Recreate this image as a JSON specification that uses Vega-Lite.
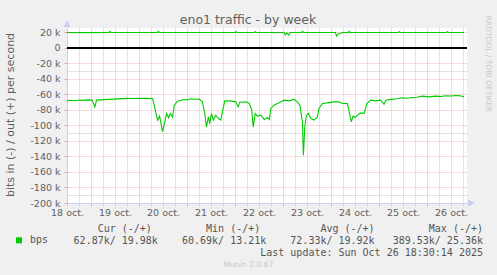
{
  "$schema": "https://vega.github.io/schema/vega-lite/v6.json",
  "width": 400,
  "height": 175,
  "autosize": {"type": "none"},
  "padding": {"left": 67, "top": 28, "right": 30, "bottom": 72},
  "background": "#f0f0f0",
  "config": {"view": {"stroke": null, "fill": "#ffffff"}, "font": "DejaVu Sans", "axis": {"labelOverlap": false}},
  "title": {"text": "eno1 traffic - by week", "anchor": "middle", "frame": "group", "dx": -19, "dy": 15, "offset": 4, "fontSize": 12.5, "fontWeight": "normal", "font": "DejaVu Sans", "color": "#606060"},
  "data": {"values": [
    {"h": 0, "v": -68200, "d": "in", "s": "bps"},
    {"h": 2, "v": -67500, "d": "in", "s": "bps"},
    {"h": 4, "v": -68000, "d": "in", "s": "bps"},
    {"h": 6, "v": -67200, "d": "in", "s": "bps"},
    {"h": 8, "v": -67600, "d": "in", "s": "bps"},
    {"h": 10, "v": -67000, "d": "in", "s": "bps"},
    {"h": 12.6, "v": -67200, "d": "in", "s": "bps"},
    {"h": 13.9, "v": -76000, "d": "in", "s": "bps"},
    {"h": 14.8, "v": -67200, "d": "in", "s": "bps"},
    {"h": 18.6, "v": -66600, "d": "in", "s": "bps"},
    {"h": 23.6, "v": -66000, "d": "in", "s": "bps"},
    {"h": 29.5, "v": -65000, "d": "in", "s": "bps"},
    {"h": 33, "v": -65200, "d": "in", "s": "bps"},
    {"h": 36.1, "v": -65000, "d": "in", "s": "bps"},
    {"h": 40, "v": -64900, "d": "in", "s": "bps"},
    {"h": 42.8, "v": -65200, "d": "in", "s": "bps"},
    {"h": 43.6, "v": -73800, "d": "in", "s": "bps"},
    {"h": 45.3, "v": -93000, "d": "in", "s": "bps"},
    {"h": 46.3, "v": -88000, "d": "in", "s": "bps"},
    {"h": 47.8, "v": -108000, "d": "in", "s": "bps"},
    {"h": 49.1, "v": -93000, "d": "in", "s": "bps"},
    {"h": 49.8, "v": -84500, "d": "in", "s": "bps"},
    {"h": 50.8, "v": -90000, "d": "in", "s": "bps"},
    {"h": 51.6, "v": -84500, "d": "in", "s": "bps"},
    {"h": 52.8, "v": -89000, "d": "in", "s": "bps"},
    {"h": 53.6, "v": -74000, "d": "in", "s": "bps"},
    {"h": 55.2, "v": -68600, "d": "in", "s": "bps"},
    {"h": 58.6, "v": -66400, "d": "in", "s": "bps"},
    {"h": 60.2, "v": -67000, "d": "in", "s": "bps"},
    {"h": 61.9, "v": -65600, "d": "in", "s": "bps"},
    {"h": 64, "v": -66200, "d": "in", "s": "bps"},
    {"h": 66.1, "v": -66000, "d": "in", "s": "bps"},
    {"h": 67.7, "v": -69500, "d": "in", "s": "bps"},
    {"h": 68.9, "v": -84500, "d": "in", "s": "bps"},
    {"h": 69.7, "v": -102000, "d": "in", "s": "bps"},
    {"h": 70.7, "v": -89000, "d": "in", "s": "bps"},
    {"h": 71.4, "v": -97500, "d": "in", "s": "bps"},
    {"h": 72.2, "v": -84500, "d": "in", "s": "bps"},
    {"h": 73.2, "v": -93000, "d": "in", "s": "bps"},
    {"h": 74.4, "v": -86700, "d": "in", "s": "bps"},
    {"h": 75.7, "v": -91000, "d": "in", "s": "bps"},
    {"h": 76.9, "v": -93000, "d": "in", "s": "bps"},
    {"h": 77.7, "v": -82400, "d": "in", "s": "bps"},
    {"h": 78.9, "v": -68200, "d": "in", "s": "bps"},
    {"h": 81.1, "v": -68200, "d": "in", "s": "bps"},
    {"h": 84.4, "v": -69500, "d": "in", "s": "bps"},
    {"h": 85.6, "v": -76000, "d": "in", "s": "bps"},
    {"h": 86.4, "v": -69900, "d": "in", "s": "bps"},
    {"h": 89.4, "v": -69500, "d": "in", "s": "bps"},
    {"h": 91.1, "v": -71600, "d": "in", "s": "bps"},
    {"h": 92.4, "v": -80200, "d": "in", "s": "bps"},
    {"h": 93.1, "v": -102000, "d": "in", "s": "bps"},
    {"h": 94.1, "v": -84500, "d": "in", "s": "bps"},
    {"h": 95.2, "v": -88000, "d": "in", "s": "bps"},
    {"h": 96.9, "v": -86700, "d": "in", "s": "bps"},
    {"h": 98.6, "v": -92300, "d": "in", "s": "bps"},
    {"h": 100.2, "v": -89700, "d": "in", "s": "bps"},
    {"h": 101.2, "v": -92300, "d": "in", "s": "bps"},
    {"h": 101.9, "v": -78000, "d": "in", "s": "bps"},
    {"h": 103.5, "v": -73800, "d": "in", "s": "bps"},
    {"h": 106, "v": -70700, "d": "in", "s": "bps"},
    {"h": 108.5, "v": -67300, "d": "in", "s": "bps"},
    {"h": 111, "v": -68200, "d": "in", "s": "bps"},
    {"h": 113.5, "v": -66400, "d": "in", "s": "bps"},
    {"h": 115.2, "v": -69500, "d": "in", "s": "bps"},
    {"h": 116.4, "v": -73800, "d": "in", "s": "bps"},
    {"h": 117.2, "v": -86700, "d": "in", "s": "bps"},
    {"h": 117.7, "v": -95400, "d": "in", "s": "bps"},
    {"h": 118.2, "v": -138500, "d": "in", "s": "bps"},
    {"h": 118.9, "v": -102000, "d": "in", "s": "bps"},
    {"h": 119.7, "v": -86700, "d": "in", "s": "bps"},
    {"h": 120.7, "v": -84500, "d": "in", "s": "bps"},
    {"h": 121.9, "v": -91000, "d": "in", "s": "bps"},
    {"h": 123.5, "v": -93000, "d": "in", "s": "bps"},
    {"h": 125.2, "v": -88900, "d": "in", "s": "bps"},
    {"h": 126, "v": -78000, "d": "in", "s": "bps"},
    {"h": 127.7, "v": -71600, "d": "in", "s": "bps"},
    {"h": 130.2, "v": -70800, "d": "in", "s": "bps"},
    {"h": 133.5, "v": -69500, "d": "in", "s": "bps"},
    {"h": 136, "v": -69500, "d": "in", "s": "bps"},
    {"h": 137.7, "v": -71600, "d": "in", "s": "bps"},
    {"h": 140.2, "v": -71600, "d": "in", "s": "bps"},
    {"h": 141.1, "v": -82400, "d": "in", "s": "bps"},
    {"h": 142.2, "v": -95400, "d": "in", "s": "bps"},
    {"h": 143, "v": -88000, "d": "in", "s": "bps"},
    {"h": 144, "v": -89700, "d": "in", "s": "bps"},
    {"h": 145.2, "v": -86700, "d": "in", "s": "bps"},
    {"h": 146.9, "v": -83700, "d": "in", "s": "bps"},
    {"h": 148.6, "v": -84500, "d": "in", "s": "bps"},
    {"h": 149.9, "v": -71600, "d": "in", "s": "bps"},
    {"h": 151.9, "v": -67300, "d": "in", "s": "bps"},
    {"h": 154.4, "v": -68200, "d": "in", "s": "bps"},
    {"h": 156.9, "v": -67300, "d": "in", "s": "bps"},
    {"h": 158.5, "v": -72500, "d": "in", "s": "bps"},
    {"h": 159.4, "v": -67300, "d": "in", "s": "bps"},
    {"h": 162.6, "v": -66000, "d": "in", "s": "bps"},
    {"h": 165, "v": -65500, "d": "in", "s": "bps"},
    {"h": 167.6, "v": -64300, "d": "in", "s": "bps"},
    {"h": 170, "v": -64800, "d": "in", "s": "bps"},
    {"h": 172.6, "v": -63800, "d": "in", "s": "bps"},
    {"h": 175, "v": -63500, "d": "in", "s": "bps"},
    {"h": 177.6, "v": -62100, "d": "in", "s": "bps"},
    {"h": 181, "v": -63000, "d": "in", "s": "bps"},
    {"h": 184.3, "v": -62100, "d": "in", "s": "bps"},
    {"h": 187, "v": -62500, "d": "in", "s": "bps"},
    {"h": 189.3, "v": -61700, "d": "in", "s": "bps"},
    {"h": 192, "v": -62000, "d": "in", "s": "bps"},
    {"h": 194.3, "v": -61200, "d": "in", "s": "bps"},
    {"h": 196.5, "v": -61600, "d": "in", "s": "bps"},
    {"h": 198.5, "v": -62870, "d": "in", "s": "bps"},
    {"h": 0, "v": 20000, "d": "out", "s": "bps"},
    {"h": 10, "v": 19900, "d": "out", "s": "bps"},
    {"h": 21, "v": 20000, "d": "out", "s": "bps"},
    {"h": 21.5, "v": 21300, "d": "out", "s": "bps"},
    {"h": 22.1, "v": 20000, "d": "out", "s": "bps"},
    {"h": 45.2, "v": 20000, "d": "out", "s": "bps"},
    {"h": 45.7, "v": 21300, "d": "out", "s": "bps"},
    {"h": 46.3, "v": 20000, "d": "out", "s": "bps"},
    {"h": 84, "v": 20000, "d": "out", "s": "bps"},
    {"h": 84.5, "v": 21000, "d": "out", "s": "bps"},
    {"h": 85, "v": 20000, "d": "out", "s": "bps"},
    {"h": 93.6, "v": 20000, "d": "out", "s": "bps"},
    {"h": 94.1, "v": 21000, "d": "out", "s": "bps"},
    {"h": 94.6, "v": 20000, "d": "out", "s": "bps"},
    {"h": 108.5, "v": 20000, "d": "out", "s": "bps"},
    {"h": 109.1, "v": 16800, "d": "out", "s": "bps"},
    {"h": 109.9, "v": 19500, "d": "out", "s": "bps"},
    {"h": 110.8, "v": 16800, "d": "out", "s": "bps"},
    {"h": 111.6, "v": 20000, "d": "out", "s": "bps"},
    {"h": 117.3, "v": 20000, "d": "out", "s": "bps"},
    {"h": 117.8, "v": 21200, "d": "out", "s": "bps"},
    {"h": 118.4, "v": 20000, "d": "out", "s": "bps"},
    {"h": 134.2, "v": 20000, "d": "out", "s": "bps"},
    {"h": 134.8, "v": 15500, "d": "out", "s": "bps"},
    {"h": 135.7, "v": 18500, "d": "out", "s": "bps"},
    {"h": 136.6, "v": 18800, "d": "out", "s": "bps"},
    {"h": 137.7, "v": 20000, "d": "out", "s": "bps"},
    {"h": 140.6, "v": 20000, "d": "out", "s": "bps"},
    {"h": 141.1, "v": 21200, "d": "out", "s": "bps"},
    {"h": 141.7, "v": 20000, "d": "out", "s": "bps"},
    {"h": 165.6, "v": 20000, "d": "out", "s": "bps"},
    {"h": 166.1, "v": 21000, "d": "out", "s": "bps"},
    {"h": 166.7, "v": 20000, "d": "out", "s": "bps"},
    {"h": 189.7, "v": 20000, "d": "out", "s": "bps"},
    {"h": 190.2, "v": 21000, "d": "out", "s": "bps"},
    {"h": 190.8, "v": 20000, "d": "out", "s": "bps"},
    {"h": 198.5, "v": 19980, "d": "out", "s": "bps"}
  ]},
  "layer": [
    {
      "layer": [
        {
          "mark": {"type": "point", "opacity": 0},
          "encoding": {
            "x": {
              "field": "h", "type": "quantitative",
              "scale": {"domain": [0, 200], "nice": false, "zero": false},
              "axis": {"orient": "bottom", "labels": false, "ticks": false, "domain": false, "grid": false,
                "title": "Munin 2.0.67", "titleFont": "DejaVu Sans", "titleFontSize": 7.6, "titleFontWeight": "normal", "titleColor": "#c8c8c8",
                "titleX": 181, "titleY": 61, "titleAlign": "center", "titleBaseline": "middle"}
            },
            "y": {
              "field": "v", "type": "quantitative",
              "scale": {"domain": [-200000, 25806], "nice": false, "zero": false},
              "axis": {"orient": "right", "labels": false, "ticks": false, "domain": false,
                "values": [-190000, -170000, -150000, -130000, -110000, -90000, -70000, -50000, -30000, -10000, 10000],
                "grid": true, "gridColor": "#c4c4c4", "gridDash": [1, 1], "gridWidth": 1,
                "title": "RRDTOOL / TOBI OETIKER", "titleFont": "DejaVu Sans", "titleFontSize": 7.5, "titleFontWeight": "normal", "titleColor": "#c8c8c8",
                "titleAngle": 90, "titleX": 20, "titleY": 35.5, "titleAlign": "center", "titleBaseline": "middle"}
            }
          }
        },
        {
          "mark": {"type": "point", "shape": "triangle-up", "filled": true, "size": 30, "color": "#c8cef8", "opacity": 1, "clip": false},
          "encoding": {"x": {"datum": 0, "type": "quantitative"}, "y": {"datum": 31000, "type": "quantitative"}}
        },
        {
          "mark": {"type": "point", "shape": "triangle-right", "filled": true, "size": 30, "color": "#c8cef8", "opacity": 1, "clip": false},
          "encoding": {"x": {"datum": 202, "type": "quantitative"}, "y": {"datum": -200000, "type": "quantitative"}}
        },
        {
          "mark": {"type": "rule", "color": "#000000", "strokeWidth": 1},
          "encoding": {"y": {"datum": 0, "type": "quantitative"}}
        }
      ]
    },
    {
      "mark": {"type": "line", "strokeWidth": 1.1, "clip": true},
      "encoding": {
        "x": {
          "field": "h", "type": "quantitative",
          "scale": {"domain": [0, 200], "nice": false, "zero": false},
          "axis": {
            "orient": "bottom",
            "values": [0, 6, 12, 18, 24, 30, 36, 42, 48, 54, 60, 66, 72, 78, 84, 90, 96, 102, 108, 114, 120, 126, 132, 138, 144, 150, 156, 162, 168, 174, 180, 186, 192, 198],
            "labelExpr": "datum.value % 24 == 0 ? (18 + datum.value / 24) + ' oct.' : ''",
            "labelFont": "DejaVu Sans", "labelFontSize": 9.5, "labelColor": "#606060",
            "labelPadding": 1.5, "labelOverlap": false, "labelFlush": false, "labelBound": false,
            "tickSize": 3,
            "tickColor": {"condition": {"test": "datum.value % 24 == 12", "value": "#eeaaaa"}, "value": "#d0d0d0"},
            "grid": true,
            "gridColor": {"condition": {"test": "datum.value % 24 == 12", "value": "#eeaaaa"}, "value": "#c8c8c8"},
            "gridDash": [1, 1], "gridWidth": 1,
            "domainColor": "#c8cef8", "domainWidth": 1,
            "title": ["Cur (-/+)\u00a0\u00a0\u00a0\u00a0\u00a0\u00a0\u00a0\u00a0\u00a0Min (-/+)\u00a0\u00a0\u00a0\u00a0\u00a0\u00a0\u00a0\u00a0\u00a0\u00a0Avg (-/+)\u00a0\u00a0\u00a0\u00a0\u00a0\u00a0\u00a0\u00a0\u00a0Max (-/+)\u00a0", "62.87k/ 19.98k\u00a0\u00a0\u00a0\u00a060.69k/ 13.21k\u00a0\u00a0\u00a0\u00a072.33k/ 19.92k\u00a0\u00a0\u00a0389.53k/ 25.36k", "Last update: Sun Oct 26 18:30:14 2025"],
            "titleFont": "DejaVu Sans Mono", "titleFontSize": 10, "titleFontWeight": "normal", "titleColor": "#555555",
            "titleAlign": "right", "titleBaseline": "alphabetic", "titleX": 415.5, "titleY": 28.3, "titleLineHeight": 12.2
          }
        },
        "y": {
          "field": "v", "type": "quantitative",
          "scale": {"domain": [-200000, 25806], "nice": false, "zero": false},
          "axis": {
            "orient": "left",
            "values": [-200000, -180000, -160000, -140000, -120000, -100000, -80000, -60000, -40000, -20000, 0, 20000],
            "labelExpr": "datum.value == 0 ? '0' : (datum.value / 1000) + ' k'",
            "labelFont": "DejaVu Sans", "labelFontSize": 9.5, "labelColor": "#606060", "labelPadding": 4, "labelOverlap": false,
            "tickSize": 3, "tickColor": "#e8a0a0",
            "grid": true,
            "gridColor": {"condition": {"test": "datum.value == 0", "value": "transparent"}, "value": "#efb4b4"},
            "gridDash": [1, 1], "gridWidth": 1,
            "domainColor": "#c8cef8", "domainWidth": 1,
            "title": "bits in (-) / out (+) per second",
            "titleFont": "DejaVu Sans", "titleFontSize": 11, "titleFontWeight": "normal", "titleColor": "#606060",
            "titleAngle": -90, "titleAlign": "center", "titleBaseline": "middle", "titleX": -56.5, "titleY": 86.5
          }
        },
        "color": {
          "field": "s", "type": "nominal",
          "scale": {"range": ["#00cc00"]},
          "legend": {
            "orient": "none", "legendX": -53, "legendY": 207.3, "title": null, "padding": 0,
            "symbolType": "square", "symbolSize": 36, "symbolFillColor": "#00cc00", "symbolStrokeWidth": 0,
            "labelFont": "DejaVu Sans Mono", "labelFontSize": 10, "labelColor": "#555555", "labelOffset": 6,
            "encode": {"symbols": {"update": {"fill": {"value": "#00cc00"}, "stroke": {"value": "transparent"}, "strokeWidth": {"value": 0}}}}
          }
        },
        "detail": {"field": "d", "type": "nominal"}
      }
    }
  ],
  "resolve": {"scale": {"x": "independent", "y": "independent"}}
}
